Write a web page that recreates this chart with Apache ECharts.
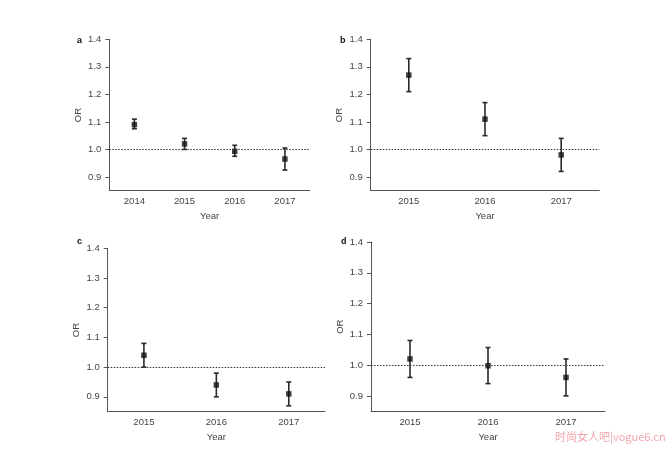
<!DOCTYPE html>
<html><head><meta charset="utf-8">
<script src="https://cdn.jsdelivr.net/npm/echarts@6/dist/echarts.min.js"></script>
<style>html,body{margin:0;padding:0;background:#fff}#c{width:669px;height:449px}</style>
</head><body><div id="c"></div>
<script>
// Panel a
var yearsA = ['2014','2015','2016','2017'];
var orA    = [1.09, 1.02, 0.993, 0.965];
var lowA   = [1.075, 1.00, 0.975, 0.925];
var highA  = [1.11, 1.04, 1.015, 1.005];
// Panel b
var yearsB = ['2015','2016','2017'];
var orB    = [1.27, 1.11, 0.98];
var lowB   = [1.21, 1.05, 0.92];
var highB  = [1.33, 1.17, 1.04];
// Panel c
var yearsC = ['2015','2016','2017'];
var orC    = [1.04, 0.94, 0.91];
var lowC   = [1.00, 0.90, 0.87];
var highC  = [1.08, 0.98, 0.95];
// Panel d
var yearsD = ['2015','2016','2017'];
var orD    = [1.02, 0.998, 0.96];
var lowD   = [0.96, 0.94, 0.90];
var highD  = [1.08, 1.057, 1.02];
var yTicks = [0.9, 1.0, 1.1, 1.2, 1.3, 1.4];
var yTickLabels = ['0.9','1.0','1.1','1.2','1.3','1.4'];
var panelLabels = ['a','b','c','d'];

var panels = [
  {years: yearsA, or: orA, low: lowA, high: highA, grid: {left: 109.3, top: 39.3, width: 200.7, height: 151.4}},
  {years: yearsB, or: orB, low: lowB, high: highB, grid: {left: 370.7, top: 39.3, width: 228.6, height: 151.4}},
  {years: yearsC, or: orC, low: lowC, high: highC, grid: {left: 107.7, top: 248.3, width: 217.3, height: 163.4}},
  {years: yearsD, or: orD, low: lowD, high: highD, grid: {left: 371, top: 242, width: 234, height: 169.3}}
];
var labelPos = [[72, 31], [335, 31], [72, 232], [336, 232]];

var FONT = '"Liberation Sans", Arial, sans-serif';
var AX = '#555';
var TXT = '#444';

var option = {
  animation: false,
  backgroundColor: '#fff',
  grid: [], xAxis: [], yAxis: [], series: [], title: []
};

panels.forEach(function (p, i) {
  option.grid.push(p.grid);
  option.xAxis.push({
    type: 'category', gridIndex: i, data: p.years, boundaryGap: true,
    name: 'Year', nameLocation: 'middle', nameGap: 21,
    nameTextStyle: {fontFamily: FONT, fontSize: 9.5, color: TXT},
    axisLine: {lineStyle: {color: AX, width: 1}},
    axisTick: {alignWithLabel: true, length: 3, lineStyle: {color: AX}},
    axisLabel: {fontFamily: FONT, fontSize: 9.5, color: TXT, margin: 6},
    splitLine: {show: false}
  });
  option.yAxis.push({
    type: 'value', gridIndex: i, min: 0.85, max: 1.4,
    name: 'OR', nameLocation: 'middle', nameGap: 26,
    nameTextStyle: {fontFamily: FONT, fontSize: 9.5, color: TXT},
    axisLine: {show: true, lineStyle: {color: AX, width: 1}},
    axisTick: {show: true, length: 4, lineStyle: {color: AX}, customValues: yTicks},
    axisLabel: {fontFamily: FONT, fontSize: 9.5, color: TXT, margin: 8, customValues: yTicks,
      formatter: function (v) { var k = yTicks.findIndex(function (t) { return Math.abs(t - v) < 1e-6; }); return k >= 0 ? yTickLabels[k] : ''; }},
    splitLine: {show: false}
  });
  option.series.push({
    type: 'custom', xAxisIndex: i, yAxisIndex: i,
    data: p.years.map(function (y, k) { return [k, p.low[k], p.high[k]]; }),
    encode: {x: 0, y: [1, 2]},
    renderItem: function (params, api) {
      var lo = api.coord([api.value(0), api.value(1)]);
      var hi = api.coord([api.value(0), api.value(2)]);
      var cw = 2.5;
      var st = {stroke: '#2a2a2a', lineWidth: 1.6};
      return {type: 'group', children: [
        {type: 'line', shape: {x1: lo[0], y1: lo[1], x2: hi[0], y2: hi[1]}, style: st},
        {type: 'line', shape: {x1: lo[0] - cw, y1: lo[1], x2: lo[0] + cw, y2: lo[1]}, style: st},
        {type: 'line', shape: {x1: hi[0] - cw, y1: hi[1], x2: hi[0] + cw, y2: hi[1]}, style: st}
      ]};
    },
    z: 2
  });
  option.series.push({
    type: 'scatter', xAxisIndex: i, yAxisIndex: i,
    data: p.or.map(function (v, k) { return [k, v]; }),
    symbol: 'rect', symbolSize: 5.5,
    itemStyle: {color: '#111'},
    z: 3,
    markLine: {
      silent: true, symbol: 'none', label: {show: false},
      lineStyle: {color: '#333', type: [1.5, 1.5], width: 1},
      data: [{yAxis: 1.0}]
    }
  });
  option.title.push({
    text: panelLabels[i], left: labelPos[i][0], top: labelPos[i][1],
    textStyle: {fontFamily: FONT, fontSize: 9, fontWeight: 'bold', color: '#111'}
  });
});

option.graphic = [{
  type: 'text', left: 555, top: 431,
  style: {text: '时尚女人吧|vogue6.cn', fill: '#f2a5ad', font: '11px "Noto Sans CJK SC", sans-serif'}
}];

var chart = echarts.init(document.getElementById('c'), null, {renderer: 'canvas'});
chart.setOption(option);
</script>
</body></html>
